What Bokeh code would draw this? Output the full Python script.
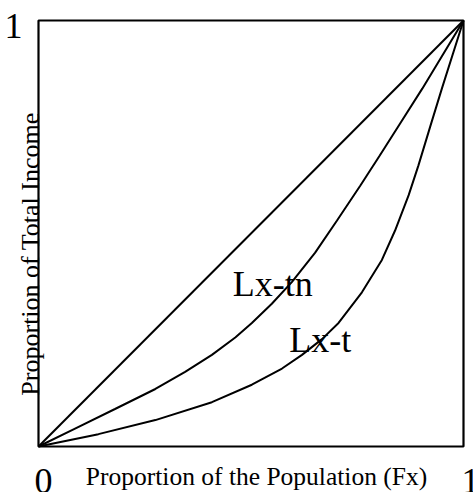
import math
from bokeh.plotting import figure
from bokeh.models import Range1d
from bokeh.core.properties import value
from bokeh.embed import file_html
from bokeh.resources import INLINE

# Data
axis_min, axis_max = 0.0, 1.0

equality_x = [0.0, 1.0]
equality_y = [0.0, 1.0]

lx_tn_x = [0.0, 0.086, 0.180, 0.275, 0.345, 0.408, 0.463, 0.502, 0.549, 0.596,
           0.651, 0.702, 0.757, 0.803, 0.852, 0.903, 1.0]
lx_tn_y = [0.0, 0.042, 0.088, 0.135, 0.175, 0.215, 0.256, 0.290, 0.335, 0.386,
           0.455, 0.530, 0.612, 0.683, 0.760, 0.840, 1.0]

lx_t_x = [0.0, 0.141, 0.275, 0.408, 0.502, 0.573, 0.620, 0.667, 0.706, 0.761,
          0.808, 0.839, 0.871, 0.894, 0.922, 0.950, 1.0]
lx_t_y = [0.0, 0.029, 0.062, 0.104, 0.145, 0.183, 0.215, 0.252, 0.290, 0.362,
          0.438, 0.507, 0.590, 0.660, 0.752, 0.843, 1.0]

curve_labels = ["Lx-tn", "Lx-t"]
curve_label_x = [0.457, 0.590]
curve_label_y = [0.354, 0.223]

x_tick_labels = ["0", "1"]
y_tick_label = "1"
x_title = "Proportion of the Population (Fx)"
y_title = "Proportion of Total Income"

FONT = "Liberation Serif"

# frame covers the whole canvas; the unit box is drawn from the data range
p = figure(width=473, height=492, output_backend="svg", toolbar_location=None,
           x_range=Range1d(-38 / 425, 1 + 10 / 425),
           y_range=Range1d(-46 / 426, 1 + 20 / 426),
           min_border=0)
p.xaxis.visible = False
p.yaxis.visible = False
p.grid.visible = False
p.outline_line_color = None
p.background_fill_color = "white"
p.border_fill_color = "white"

# axes box
p.quad(left=[axis_min], right=[axis_max], bottom=[axis_min], top=[axis_max],
       fill_color=None, line_color="black", line_width=2.2)

p.line(equality_x, equality_y, line_color="black", line_width=2)
p.line(lx_tn_x, lx_tn_y, line_color="black", line_width=2)
p.line(lx_t_x, lx_t_y, line_color="black", line_width=2)

big = dict(text_font=value(FONT), text_font_size="36px", text_color="black",
           text_baseline="alphabetic", y_offset=-12)

p.text(x=curve_label_x, y=curve_label_y, text=curve_labels, text_align="left", **big)

# tick labels
p.text(x=[axis_min + 0.012], y=[-0.108], text=[x_tick_labels[0]], text_align="center", **big)
p.text(x=[axis_max - 0.005], y=[-0.108], text=[x_tick_labels[1]], text_align="left", **big)
p.text(x=[axis_min - 0.059], y=[0.958], text=[y_tick_label], text_align="center", **big)

# axis titles
p.text(x=[0.513], y=[-0.0915], text=[x_title], text_font=value(FONT),
       text_font_size="25.5px", text_color="black", text_align="center",
       text_baseline="alphabetic", y_offset=-8.5)
p.text(x=[-0.003], y=[0.452], text=[y_title], text_font=value(FONT),
       text_font_size="26px", text_color="black", angle=math.pi / 2,
       text_align="center", text_baseline="alphabetic", x_offset=-6.5)

open("out.html", "w").write(file_html(p, INLINE))
